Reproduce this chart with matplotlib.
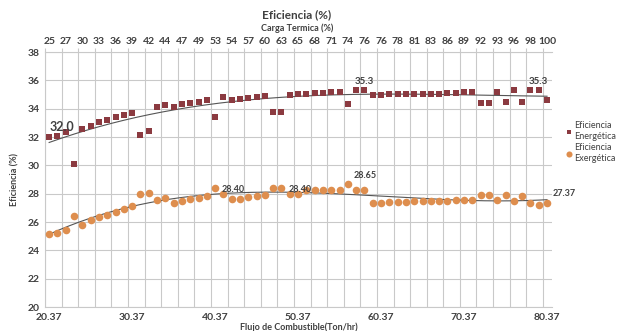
import numpy as np
import matplotlib
matplotlib.use('Agg')
import matplotlib.pyplot as plt

plt.rcParams['font.family'] = ['Lato', 'DejaVu Sans']

# flujo de combustible (Ton/hr), one point per unit
flujo = [20.37 + i for i in range(61)]

ef_energetica = [
    32.0, 32.1, 32.35, 30.1, 32.6, 32.8, 33.05, 33.2, 33.4, 33.55,
    33.7, 32.15, 32.4, 34.1, 34.25, 34.15, 34.3, 34.4, 34.45, 34.6,
    33.4, 34.8, 34.6, 34.7, 34.75, 34.8, 34.9, 33.75, 33.8, 35.0,
    35.03, 35.05, 35.1, 35.12, 35.15, 35.17, 34.3, 35.3, 35.3, 35.0,
    35.0, 35.02, 35.03, 35.03, 35.03, 35.05, 35.07, 35.07, 35.1, 35.1,
    35.15, 35.2, 34.4, 34.42, 35.2, 34.45, 35.3, 34.5, 35.3, 35.3,
    34.6,
]

ef_exergetica = [
    25.16, 25.23, 25.45, 26.4, 25.8, 26.15, 26.35, 26.5, 26.72, 26.93,
    27.15, 27.95, 28.07, 27.57, 27.7, 27.36, 27.45, 27.6, 27.7, 27.83,
    28.40, 27.95, 27.6, 27.65, 27.76, 27.83, 27.88, 28.4, 28.40, 28.0,
    28.0, 28.28, 28.28, 28.28, 28.28, 28.28, 28.65, 28.28, 28.28, 27.34,
    27.37, 27.4, 27.4, 27.42, 27.48, 27.48, 27.5, 27.5, 27.5, 27.53,
    27.57, 27.57, 27.9, 27.88, 27.53, 27.88, 27.48, 27.81, 27.34, 27.22,
    27.37,
]

carga_termica = ['25', '27', '30', '33', '36', '39', '42', '44', '47', '49',
                 '53', '54', '57', '60', '63', '65', '68', '71', '74', '76',
                 '76', '78', '81', '83', '86', '89', '92', '93', '96', '98', '100']

# (index, text)
etiquetas_en = [(0, '32.0'), (38, '35.3'), (59, '35.3')]
etiquetas_ex = [(20, '28.40'), (28, '28.40'), (36, '28.65'), (60, '27.37')]

C_EN = '#8B3A40'
C_EX = '#DE8E4E'
C_TXT = '#404040'
C_GRID = '#C9C9C9'

fig = plt.figure(figsize=(6.2, 3.31), dpi=100)
ax = fig.add_axes([45 / 620, 24 / 331, 507 / 620, 255 / 331])

x = np.array(flujo)
ax.scatter(x, ef_energetica, marker='s', s=13, color=C_EN, lw=0, zorder=3,
           label='Eficiencia\nEnergética')
ax.scatter(x, ef_exergetica, marker='o', s=30, color=C_EX, lw=0, zorder=3,
           label='Eficiencia\nExergética')

# polynomial trendlines
xs = np.linspace(x[0], x[-1], 200)
for serie in (ef_energetica, ef_exergetica):
    coef = np.polyfit(x - x[0], serie, 3)
    ax.plot(xs, np.polyval(coef, xs - x[0]), color='#555555', lw=0.8, zorder=2)

for i, t in etiquetas_en:
    fs = 9 if i == 0 else 7
    ax.annotate(t, (x[i], ef_energetica[i]), xytext=(0, 3), textcoords='offset points',
                ha='left' if i == 0 else 'center', va='bottom', fontsize=fs,
                fontweight='bold', color=C_TXT)
for i, t in etiquetas_ex:
    off = (4, 3) if i in (36, 60) else (5, -1)
    ax.annotate(t, (x[i], ef_exergetica[i]), xytext=off, textcoords='offset points',
                ha='left', va='bottom' if i in (36, 60) else 'center', fontsize=6.5,
                fontweight='bold', color=C_TXT)

grid_x = [x[0] - 0.5 + 2 * k for k in range(31)]
ax.set_xlim(x[0] - 0.5, x[-1] + 0.6)
ax.set_ylim(20, 38)
ax.set_yticks(range(20, 39, 2))
ax.set_xticks([20.37 + 10 * k for k in range(7)])
ax.set_xticklabels([f'{20.37 + 10 * k:.2f}' for k in range(7)])
ax.set_xticks(grid_x, minor=True)
ax.grid(axis='y', color=C_GRID, lw=0.8)
ax.grid(axis='x', which='minor', color=C_GRID, lw=0.8)
ax.tick_params(which='both', length=0, labelsize=7.5, colors=C_TXT, pad=4)
for lbl in ax.get_xticklabels() + ax.get_yticklabels():
    lbl.set_fontweight('bold')
ax.spines['right'].set_visible(False)
for s in ('left', 'bottom', 'top'):
    ax.spines[s].set_color(C_GRID)
ax.set_axisbelow(True)

ax.set_xlabel('Flujo de Combustible(Ton/hr)', fontsize=6.5, fontweight='bold',
              color=C_TXT, labelpad=1)
ax.set_ylabel('Eficiencia (%)', fontsize=6.5, fontweight='bold', color=C_TXT, labelpad=6)

# top axis: carga termica
ax_top = ax.twiny()
ax_top.set_xlim(ax.get_xlim())
ax_top.set_xticks(grid_x)
ax_top.set_xticklabels([])
ax_top.set_xticks([x[2 * k] for k in range(31)], minor=True)
ax_top.set_xticklabels(carga_termica, minor=True)
ax_top.tick_params(which='major', length=3, color=C_GRID, direction='out')
ax_top.tick_params(which='minor', length=0, labelsize=7.5, colors=C_TXT, pad=4)
for lbl in ax_top.get_xticklabels(minor=True):
    lbl.set_fontweight('bold')
for s in ax_top.spines.values():
    s.set_visible(False)

fig.text(297 / 620, 1 - 15 / 331, 'Eficiencia (%)', ha='center', va='center',
         fontsize=8.5, fontweight='bold', color=C_TXT)
fig.text(297 / 620, 1 - 28 / 331, 'Carga Termica (%)', ha='center', va='center',
         fontsize=6.5, fontweight='bold', color=C_TXT)

fig.legend(loc='center left', bbox_to_anchor=(565 / 620, 1 - 142 / 331), frameon=False,
           fontsize=6.5, handletextpad=0.2, handlelength=0.8, labelspacing=0.3,
           markerscale=0.8, labelcolor=C_TXT, borderaxespad=0, borderpad=0)

fig.savefig('out.png', dpi=100)
